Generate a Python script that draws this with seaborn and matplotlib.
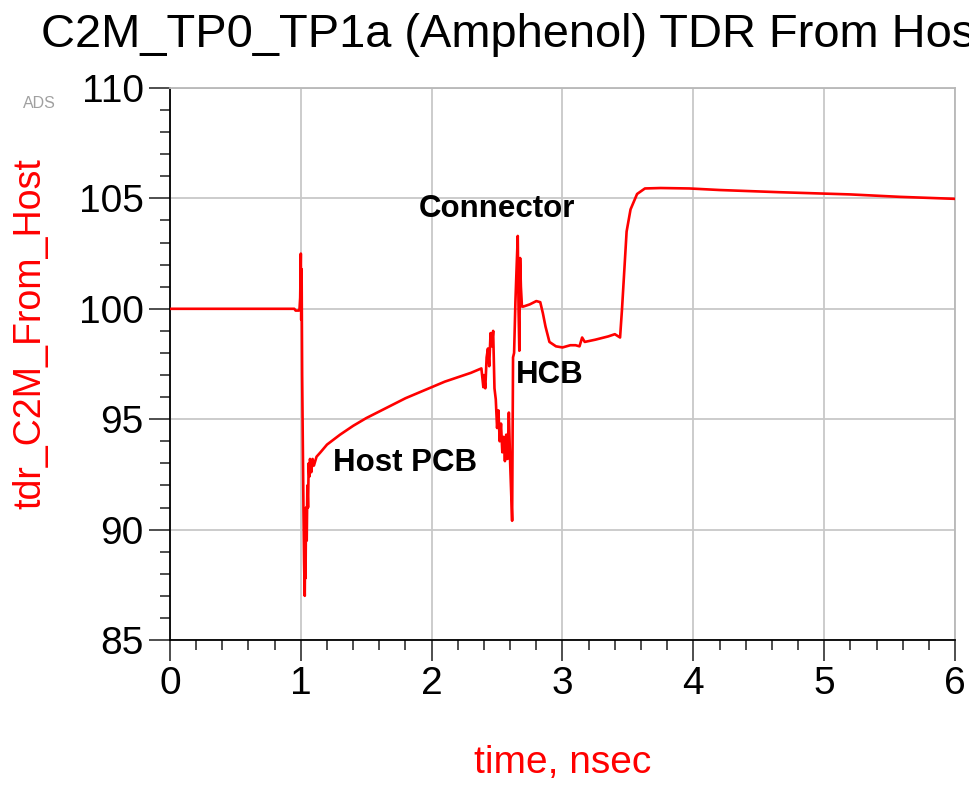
import matplotlib
matplotlib.use("Agg")
import matplotlib.pyplot as plt
from matplotlib.ticker import MultipleLocator
import seaborn as sns
import pandas as pd

# TDR impedance trace (time in ns, impedance in ohm)
time_ns = [
    0.000, 0.950, 0.960, 0.985, 0.990, 0.995, 1.000, 1.003, 1.006, 1.010,
    1.015, 1.020, 1.025, 1.030, 1.033, 1.036, 1.040, 1.045, 1.050, 1.055,
    1.060, 1.065, 1.070, 1.080, 1.090, 1.100, 1.120, 1.150, 1.200, 1.300,
    1.400, 1.500, 1.600, 1.700, 1.800, 1.900, 2.000, 2.100, 2.200, 2.300,
    2.380, 2.395, 2.400, 2.410,
    2.420, 2.430, 2.440, 2.450, 2.460, 2.470, 2.480, 2.490, 2.500, 2.510,
    2.520, 2.530, 2.540, 2.550, 2.560, 2.570, 2.580, 2.590, 2.600, 2.615,
    2.622, 2.630, 2.640, 2.650, 2.658, 2.664, 2.670, 2.676, 2.682, 2.690,
    2.700, 2.750, 2.800, 2.830, 2.850, 2.870, 2.900, 2.950, 3.000, 3.060,
    3.100, 3.130, 3.150, 3.170, 3.250, 3.350, 3.400, 3.440, 3.455, 3.470,
    3.490, 3.520, 3.570, 3.630, 3.750, 3.970, 4.200, 4.660, 5.200, 5.580,
    6.000,
]
impedance = [
    100.00, 100.00, 99.92, 99.92, 100.00, 100.50, 102.50, 99.50, 101.80, 97.00,
    94.00, 91.00, 88.50, 87.00, 89.50, 87.80, 91.00, 89.50, 92.00, 91.00,
    93.00, 92.40, 93.20, 92.60, 93.20, 92.90, 93.30, 93.50, 93.85, 94.30,
    94.70, 95.05, 95.35, 95.65, 95.95, 96.20, 96.45, 96.70, 96.90, 97.10,
    97.30, 96.45, 97.00, 96.40,
    97.80, 98.20, 97.40, 98.90, 98.30, 99.00, 96.40, 95.90, 94.60, 95.40,
    94.00, 94.80, 93.50, 94.20, 93.10, 94.30, 93.20, 95.30, 93.00, 90.40,
    97.80, 98.00, 100.30, 102.00, 103.30, 100.00, 98.10, 102.30, 101.00, 100.10,
    100.10, 100.20, 100.35, 100.30, 99.80, 99.20, 98.50, 98.30, 98.25, 98.35,
    98.35, 98.30, 98.70, 98.50, 98.60, 98.75, 98.85, 98.70, 100.00, 101.50,
    103.50, 104.50, 105.20, 105.45, 105.47, 105.45, 105.38, 105.28, 105.18, 105.07,
    104.98,
]

# Region labels placed on the trace
region_names = ["Connector", "HCB", "Host PCB"]
region_x = [2.5, 2.9, 1.8]
region_y = [104.5, 97.0, 93.0]

x_ticks = [0, 1, 2, 3, 4, 5, 6]
y_ticks = [85, 90, 95, 100, 105, 110]

sns.set_theme(style="white")
plt.rcParams["font.family"] = ["Liberation Sans", "DejaVu Sans"]

df = pd.DataFrame({"time": time_ns, "tdr": impedance})

fig = plt.figure(figsize=(9.70, 7.86), dpi=100)
ax = fig.add_axes([170 / 970, 1 - 640 / 786, 785 / 970, 552 / 786])

ax.grid(True, which="major", color="#c8c8c8", linewidth=1.3, zorder=0)
sns.lineplot(data=df, x="time", y="tdr", sort=False, color="#ff0000",
             linewidth=1.9, ax=ax, zorder=3)

ax.set_xlim(x_ticks[0], x_ticks[-1])
ax.set_ylim(y_ticks[0], y_ticks[-1])
ax.set_xticks(x_ticks)
ax.set_yticks(y_ticks)
ax.xaxis.set_minor_locator(MultipleLocator(0.2))
ax.yaxis.set_minor_locator(MultipleLocator(1))
ax.tick_params(which="major", direction="out", length=15, width=1.2,
               color="#303030", labelsize=28, pad=4, labelcolor="black",
               bottom=True, left=True)
ax.tick_params(which="minor", direction="out", length=7.5, width=1.2,
               color="#303030", bottom=True, left=True)

for side in ("left", "bottom"):
    ax.spines[side].set_color("black")
    ax.spines[side].set_linewidth(1.3)
for side in ("top", "right"):
    ax.spines[side].set_color("#b8b8b8")
    ax.spines[side].set_linewidth(1.3)

ax.set_xlabel("")
ax.set_ylabel("")
fig.text(563 / 970, 1 - 763 / 786, "time, nsec", color="#ff0000",
         fontsize=28, ha="center", va="center")
fig.text(30 / 970, 1 - 334 / 786, "tdr_C2M_From_Host", color="#ff0000",
         fontsize=27, ha="center", va="center", rotation=90)

fig.text(41 / 970, 1 - 35 / 786, "C2M_TP0_TP1a (Amphenol) TDR From Host",
         fontsize=33.8, ha="left", va="center", color="black")
fig.text(39 / 970, 1 - 103 / 786, "ADS", fontsize=11.5, color="#a0a0a0",
         ha="center", va="center")

for name, xv, yv in zip(region_names, region_x, region_y):
    ax.text(xv, yv, name, fontsize=22.5, fontweight="bold", ha="center",
            va="center", color="black", zorder=4)

fig.savefig("out.png", dpi=100)
